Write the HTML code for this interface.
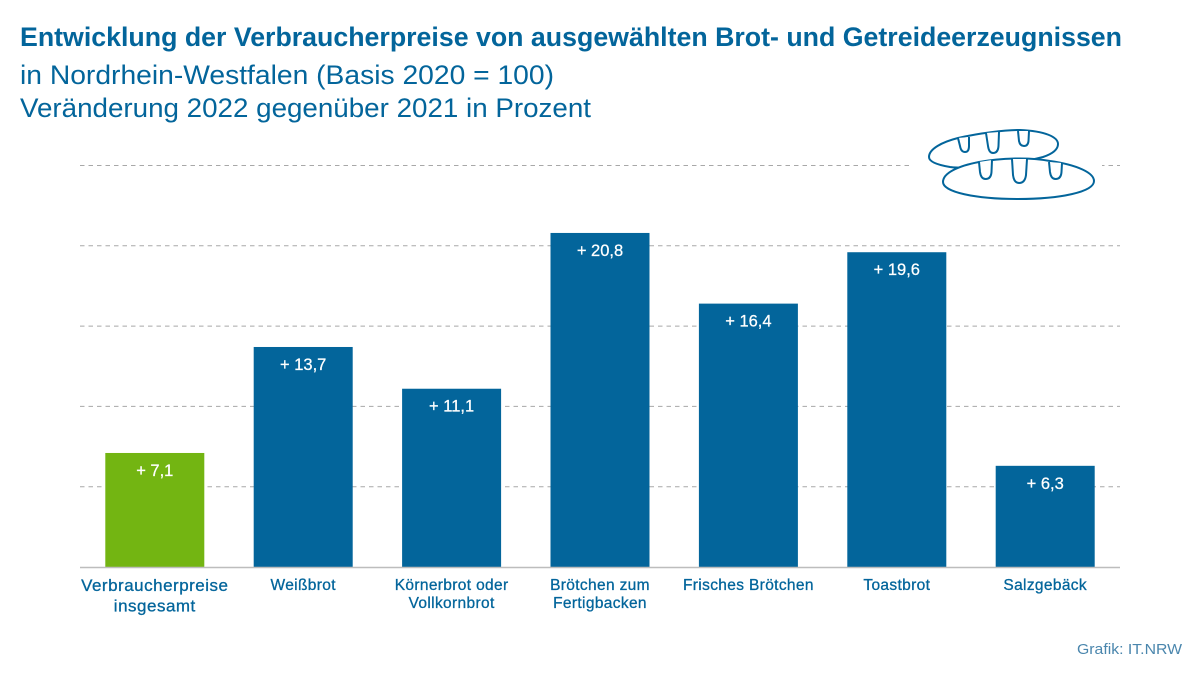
<!DOCTYPE html>
<html lang="de">
<head>
<meta charset="utf-8">
<title>Entwicklung der Verbraucherpreise</title>
<style>
html,body{margin:0;padding:0;background:#fff}
svg{display:block}
text{font-family:"Liberation Sans",sans-serif}
</style>
</head>
<body>
<svg id="chart" xmlns="http://www.w3.org/2000/svg" width="1200" height="675" viewBox="0 0 1200 675">
  <rect width="1200" height="675" fill="#fff"/>
  <text x="20" y="46" font-size="27" font-weight="700" fill="#03659b" textLength="1102" lengthAdjust="spacingAndGlyphs">Entwicklung der Verbraucherpreise von ausgewählten Brot- und Getreideerzeugnissen</text>
  <text x="20" y="84" font-size="27" fill="#03659b" textLength="534" lengthAdjust="spacingAndGlyphs">in Nordrhein-Westfalen (Basis 2020 = 100)</text>
  <text x="20" y="117" font-size="27" fill="#03659b" textLength="571" lengthAdjust="spacingAndGlyphs">Veränderung 2022 gegenüber 2021 in Prozent</text>
  <g id="grid"></g>
  <rect x="911" y="155" width="191" height="20" fill="#fff"/>
  <g id="bread" fill="#fff" stroke="#03659b" stroke-width="2" stroke-linejoin="round">
    <path d="M958 138 C980 133 1005 130 1020 130 C1045 131 1058 137 1058 144 C1058 150 1052 154 1043 157 C1020 163 975 170 950 167 C938 165 929 162 929 157 C929 149 942 142 958 138Z"/>
    <path d="M958 138 L960 146 Q961 152 965 152 Q969 152 969 146 L969 137 M986 133 L988 146 Q989 153 993 153 Q998 153 998.500 146 L999 132 M1018 131 L1019 141 Q1020 146 1024 146 Q1028 146 1028.500 141 L1029 131"/>
    <path d="M979 162 C1000 158 1030 157 1050 161 C1078 165 1094 173 1094 181 C1094 192 1060 199 1018 199 C975 199 943 192 943 182 C943 173 958 166 979 162Z"/>
    <path d="M979 162 L980 172 Q981 179 985.500 179 Q991 179 991.500 172 L992 160 M1012 159 L1013 175 Q1014 183 1019 183 Q1025 183 1026 175 L1027 159 M1049 162 L1050 172 Q1051 179 1055.500 179 Q1061 179 1061.500 172 L1062 163"/>
  </g>
  <g id="bars"></g>
  <line x1="80" y1="567.5" x2="1120" y2="567.5" stroke="#bdbdbd" stroke-width="1.5"/>
  <g id="labels"></g>
  <text x="1182" y="654" text-anchor="end" font-size="15" fill="#4a86ad" textLength="105" lengthAdjust="spacingAndGlyphs">Grafik: IT.NRW</text>
</svg>
<script>
const categories = [
  ["Verbraucherpreise", "insgesamt"],
  ["Weißbrot"],
  ["Körnerbrot oder", "Vollkornbrot"],
  ["Brötchen zum", "Fertigbacken"],
  ["Frisches Brötchen"],
  ["Toastbrot"],
  ["Salzgebäck"]
];
const values = [7.1, 13.7, 11.1, 20.8, 16.4, 19.6, 6.3];
const valueLabels = ["+ 7,1", "+ 13,7", "+ 11,1", "+ 20,8", "+ 16,4", "+ 19,6", "+ 6,3"];
const gridTicks = [5, 10, 15, 20, 25];

const NS = "http://www.w3.org/2000/svg";
const baseY = 567;
const unit = 16.06;
const firstBar = 105.3;
const step = 148.4;
const barW = 99;
const y = v => baseY - v * unit;
const x = i => firstBar + i * step;

const gridG = document.getElementById("grid");
gridTicks.forEach(t => {
  const l = document.createElementNS(NS, "line");
  
  
  l.setAttribute("x1", 80);
  l.setAttribute("x2", 1120);
  l.setAttribute("y1", y(t));
  l.setAttribute("y2", y(t));
  l.setAttribute("stroke", "#a8a8a8");
  l.setAttribute("stroke-width", "1");
  l.setAttribute("stroke-dasharray", "4.5 4");
  gridG.appendChild(l);
});

const barsG = document.getElementById("bars");
const labelsG = document.getElementById("labels");
values.forEach((v, i) => {
  const r = document.createElementNS(NS, "rect");
  
  
  r.setAttribute("x", x(i));
  r.setAttribute("y", y(v));
  r.setAttribute("width", barW);
  r.setAttribute("height", baseY - y(v));
  r.setAttribute("fill", i === 0 ? "#73b512" : "#03659b");
  barsG.appendChild(r);

  const t = document.createElementNS(NS, "text");
  
  
  t.setAttribute("x", x(i) + barW / 2);
  t.setAttribute("y", y(v) + 23);
  t.setAttribute("text-anchor", "middle");
  t.setAttribute("font-size", "16.5");
  t.setAttribute("fill", "#fff");
  t.setAttribute("stroke", "#fff");
  t.setAttribute("stroke-width", "0.25");
  t.textContent = valueLabels[i];
  barsG.appendChild(t);

  categories[i].forEach((line, j) => {
    const c = document.createElementNS(NS, "text");
    
    
    c.setAttribute("x", x(i) + barW / 2);
    c.setAttribute("text-anchor", "middle");
    c.setAttribute("fill", "#03659b");
    c.setAttribute("stroke", "#03659b");
    c.setAttribute("stroke-width", "0.3");
    if (i === 0) {
      c.setAttribute("y", 591 + j * 20.5);
      c.setAttribute("font-size", "17");
      c.setAttribute("letter-spacing", "0.5");
    } else {
      c.setAttribute("y", 590 + j * 18);
      c.setAttribute("font-size", "15.5");
      c.setAttribute("letter-spacing", "0.35");
    }
    c.textContent = line;
    labelsG.appendChild(c);
  });
});
</script>
</body>
</html>
